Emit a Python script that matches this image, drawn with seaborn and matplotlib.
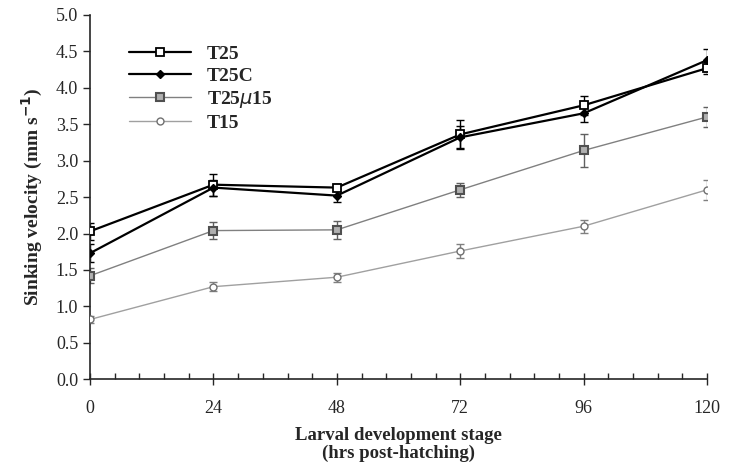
import matplotlib
matplotlib.use("Agg")
import matplotlib.pyplot as plt
from matplotlib.ticker import MultipleLocator
import seaborn as sns
import pandas as pd

hours = [0, 24, 48, 72, 96, 120]
t25 = [2.03, 2.67, 2.63, 3.36, 3.76, 4.27]
t25_err = [0.12, 0.15, 0.05, 0.20, 0.13, 0.08]
t25c = [1.73, 2.63, 2.52, 3.32, 3.65, 4.38]
t25c_err = [0.12, 0.11, 0.09, 0.15, 0.12, 0.15]
t25u15 = [1.42, 2.04, 2.05, 2.60, 3.14, 3.60]
t25u15_err = [0.10, 0.12, 0.12, 0.10, 0.23, 0.14]
t15 = [0.82, 1.27, 1.40, 1.76, 2.10, 2.60]
t15_err = [0.05, 0.06, 0.06, 0.10, 0.09, 0.14]

series = [
    ("T25", t25, t25_err, dict(color="black", ecol="black", lw=1.6, marker="s", ms=6, mfc="white", mec="black", mew=1.3)),
    ("T25C", t25c, t25c_err, dict(color="black", ecol="black", lw=1.6, marker="D", ms=4.5, mfc="black", mec="black", mew=1)),
    ("T25$\\mu$15", t25u15, t25u15_err, dict(color="#808080", ecol="#606060", lw=1.0, marker="s", ms=6, mfc="#b0b0b0", mec="#505050", mew=1.5)),
    ("T15", t15, t15_err, dict(color="#a0a0a0", ecol="#808080", lw=1.0, marker="o", ms=5, mfc="white", mec="#707070", mew=1.0)),
]

sns.set_style("ticks")
plt.rcParams["font.family"] = ["Liberation Serif", "DejaVu Serif"]

fig, ax = plt.subplots(figsize=(7.32, 4.67), dpi=100)
fig.subplots_adjust(left=0.123, right=0.966, top=0.968, bottom=0.188)

for name, vals, errs, st in series:
    df = pd.DataFrame({"h": hours, "v": vals})
    ax.errorbar(hours, vals, yerr=errs, fmt="none", ecolor=st["ecol"],
                elinewidth=1.0, capsize=3, capthick=1.0, zorder=2)
    sns.lineplot(data=df, x="h", y="v", ax=ax, label=name, color=st["color"], lw=st["lw"],
                 marker=st["marker"], markersize=st["ms"], markerfacecolor=st["mfc"],
                 markeredgecolor=st["mec"], markeredgewidth=st["mew"], zorder=3)

ax.set_xlim(0, 120)
ax.set_ylim(0, 5.0)
ax.set_xticks(hours)
ax.xaxis.set_minor_locator(MultipleLocator(4.8))
ax.set_yticks([i * 0.5 for i in range(11)])
ax.set_yticklabels([f"{i * 0.5:.1f}" for i in range(11)])
ax.tick_params(axis="x", which="major", direction="inout", length=8, width=1, labelsize=13, pad=11)
ax.tick_params(axis="x", which="minor", direction="in", length=4, width=1)
ax.tick_params(axis="y", which="major", direction="out", length=5, width=1, labelsize=13)
for s in ["left", "bottom"]:
    ax.spines[s].set_linewidth(1.2)
sns.despine(ax=ax)

ax.set_xlabel("Larval development stage\n(hrs post-hatching)", fontsize=13.5, fontweight="bold", labelpad=7, linespacing=1.05)
ax.set_ylabel("Sinking velocity (mm s$^{\\mathbf{-1}}$)", fontsize=14, fontweight="bold", labelpad=8)

leg = ax.legend(loc="upper left", bbox_to_anchor=(0.035, 0.965), frameon=False,
                handlelength=3.2, handletextpad=0.8, labelspacing=0.22, prop={"weight": "bold", "size": 14})

fig.savefig("out.png", dpi=100)
